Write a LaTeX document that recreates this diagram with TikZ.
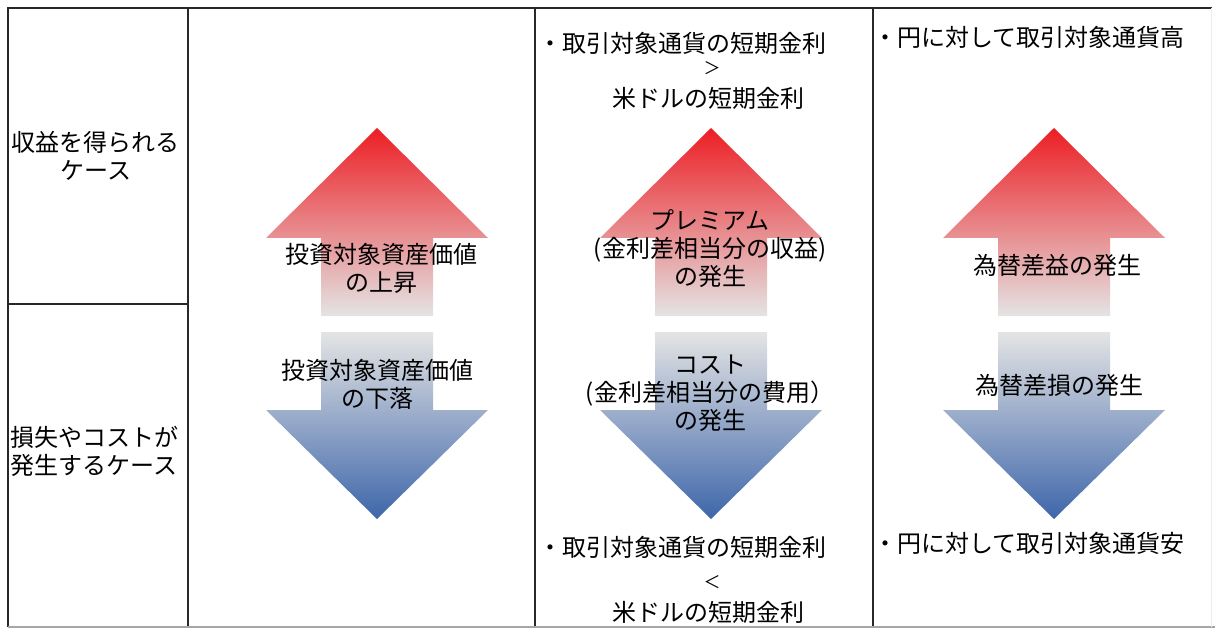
\documentclass[tikz,border=0pt]{standalone}
\usepackage{fontspec}
\setmainfont{Noto Sans CJK JP}

\definecolor{upred}{RGB}{236,30,36}
\definecolor{uppink}{RGB}{242,168,170}
\definecolor{shaftgray}{RGB}{228,228,228}
\definecolor{downmid}{RGB}{196,202,218}
\definecolor{downblue}{RGB}{62,102,170}
\definecolor{gridline}{RGB}{40,40,40}

\begin{document}
\begin{tikzpicture}
			[
				x = 1pt, y = -1pt,
				txt/.style = {inner sep = 0pt, align = center, font = \fontsize{24}{28}\selectfont},
				sign/.style = {inner sep = 0pt, font = \fontsize{17}{20}\selectfont},
				uparrow/.style = {top color = upred, middle color = uppink, bottom color = shaftgray},
				downarrow/.style = {top color = shaftgray, middle color = downmid, bottom color = downblue},
				rule/.style = {draw = gridline, line width = 2pt}
			]
			\useasboundingbox (0,0) rectangle (1215,628);
			% table
			\draw[rule] (8,627) -- (8,8) -- (1212,8);
			\draw[rule] (188,8) -- (188,627);
			\draw[rule] (8,304) -- (188,304);
			\draw[rule] (535,8) -- (535,627);
			\draw[rule] (873,8) -- (873,627);
			\draw[draw = gray!70, line width = 1.5pt] (8,627) -- (1215,627);
			\draw[draw = gray!15, line width = 1pt] (1211,8) -- (1211,627);
			% arrows
			\foreach \cx in {377,711,1054}
			{
				\shade[uparrow] (\cx,128) -- ++(111,110) -- ++(-55,0) -- ++(0,78)
					-- ++(-112,0) -- ++(0,-78) -- ++(-55,0) -- cycle;
				\shade[downarrow] (\cx,519) -- ++(111,-109) -- ++(-55,0) -- ++(0,-78)
					-- ++(-112,0) -- ++(0,78) -- ++(-55,0) -- cycle;
			}
			% row heads
			\node[txt] (gaincase) at (96,156) {収益を得られる\\ケース};
			\node[txt, anchor = west, align = left] (losscase) at (10,451) {損失やコストが\\発生するケース};
			% asset column
			\node[txt] (assetup) at (381,268) {投資対象資産価値\\の上昇};
			\node[txt] (assetdown) at (377,384) {投資対象資産価値\\の下落};
			% rate column
			\node[txt, anchor = west] (rateup) at (538,43) {・取引対象通貨の短期金利};
			\node[sign] (rateupgt) at (712,68) {＞};
			\node[txt] (rateupusd) at (708,98) {米ドルの短期金利};
			\node[txt] (premium) at (710,249) {プレミアム\\(金利差相当分の収益)\\の発生};
			\node[txt] (cost) at (710,393) {コスト\\(金利差相当分の費用）\\の発生};
			\node[txt, anchor = west] (ratedown) at (538,547) {・取引対象通貨の短期金利};
			\node[sign] (ratedownlt) at (712,582) {＜};
			\node[txt] (ratedownusd) at (708,612) {米ドルの短期金利};
			% fx column
			\node[txt, anchor = west] (yenhigh) at (873,37) {・円に対して取引対象通貨高};
			\node[txt] (fxgain) at (1057,265) {為替差益の発生};
			\node[txt] (fxloss) at (1059,385) {為替差損の発生};
			\node[txt, anchor = west] (yenlow) at (873,543) {・円に対して取引対象通貨安};
\end{tikzpicture}
\end{document}
